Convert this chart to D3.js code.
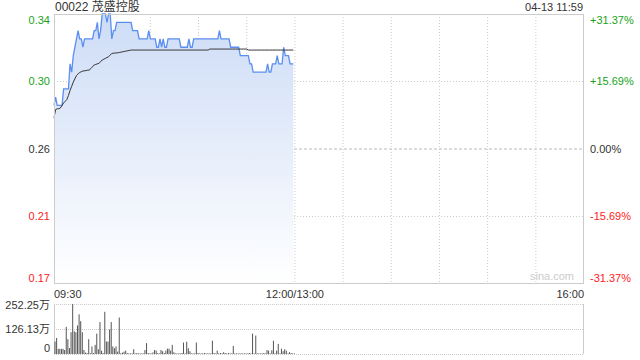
<!DOCTYPE html>
<html><head><meta charset="utf-8">
<script src="https://cdn.jsdelivr.net/npm/d3@7"></script>
<style>body{margin:0;background:#fff}svg{display:block}text{font-family:"Liberation Sans",Arial,"Noto Sans CJK SC",sans-serif}</style>
</head><body><svg id="c" width="640" height="360"></svg>
<script>
const title = "00022 茂盛控股";
const stamp = "04-13 11:59";
const prevClose = 0.2588;
const pctRange = 0.3137;
const leftLabels = ["0.34","0.30","0.26","0.21","0.17"];
const rightLabels = ["+31.37%","+15.69%","0.00%","-15.69%","-31.37%"];
const timeLabels = ["09:30","12:00/13:00","16:00"];
const timeLabelMinutes = [0,150,330];
const volLabels = ["252.25万","126.13万","0"];
const volMax = 252.25;
// price per minute from 09:30 (index = minutes since open)
const price = [
.285,.29,.285,.285,.285,.285,.295,.295,.295,.295,
.31,.305,.315,.32,.325,.33,.325,.325,.32,.325,
.325,.325,.325,.325,.325,.33,.33,.335,.325,.33,
.34,.34,.34,.335,.34,.34,.325,.33,.33,.335,
.335,.335,.335,.335,.335,.335,.335,.335,.335,.33,
.33,.33,.33,.325,.325,.325,.325,.325,.325,.33,
.325,.325,.325,.325,.32,.32,.325,.32,.325,.32,
.32,.325,.325,.325,.325,.325,.325,.325,.325,.32,
.32,.32,.32,.32,.325,.32,.32,.325,.325,.325,
.325,.325,.325,.325,.325,.325,.325,.325,.325,.325,
.325,.325,.325,.33,.325,.325,.325,.325,.325,.325,
.32,.32,.32,.32,.32,.32,.315,.315,.315,.315,
.315,.315,.31,.31,.305,.305,.305,.305,.305,.305,
.305,.305,.305,.31,.305,.305,.31,.31,.31,.315,
.31,.31,.31,.32,.315,.315,.315,.31,.31,.31];
const avg = [
.2775,.2825,.283,.283,.2835,.285,.2865,.2875,.2885,.291,
.294,.2965,.299,.301,.303,.304,.3048,.3053,.3057,.3058,
.306,.3062,.3063,.3072,.3083,.3093,.3097,.31,.3103,.3113,
.3123,.3128,.3133,.3138,.3143,.3153,.3163,.3164,.3165,.3166,
.3167,.3169,.3171,.3173,.3175,.3177,.3179,.3181,.3183,.3183,
.3183,.3183,.3183,.3183,.3183,.3183,.3183,.3183,.3183,.3183,
.3183,.3183,.3183,.3183,.3183,.3183,.3183,.3183,.3183,.3183,
.3183,.3183,.3183,.3183,.3183,.3183,.3183,.3183,.3183,.3183,
.3183,.3183,.3183,.3183,.3183,.3183,.3183,.3183,.3183,.3183,
.3183,.3183,.3183,.3183,.3183,.3183,.3183,.3189,.3189,.3189,
.3189,.3189,.3189,.3189,.3189,.3189,.3189,.3189,.3189,.3189,
.3189,.3189,.3189,.3189,.3189,.3189,.3189,.3189,.3189,.3189,
.3189,.3183,.3183,.3183,.3183,.3183,.3183,.3183,.3183,.3183,
.3183,.3183,.3183,.3183,.3183,.3183,.3183,.3183,.3183,.3183,
.3183,.3183,.3183,.3183,.3183,.3183,.3183,.3183,.3183,.3183];
// volume per minute, in 万
const volume = [
63,81,26,26,26,26,20,137,75,30,
110,252,115,110,144,200,166,110,20,7,
5,75,4,38,5,46,103,24,161,17,
5,213,63,63,124,161,38,29,38,12,
184,4,7,12,17,5,3,3,3,24,
3,5,3,3,3,3,20,55,5,3,
3,8,20,17,5,3,20,14,5,17,
27,27,17,46,9,3,3,3,3,5,
58,3,62,29,14,3,3,3,58,5,
3,3,3,5,3,3,3,3,67,5,
3,17,3,5,3,9,5,3,5,3,
3,41,3,3,3,3,3,3,3,3,
3,5,3,103,3,93,3,3,3,3,
5,3,20,17,3,19,67,3,17,51,
3,27,14,24,17,3,9,5,3,3];

const svg = d3.select("#c");
const L = 54, R = 584, T = 14, B = 284;
const VT = 304, VB = 354;
const x = d3.scaleLinear().domain([0,330]).range([L,R]);
const y = d3.scaleLinear().domain([prevClose*(1-pctRange), prevClose*(1+pctRange)]).range([B,T]);
const yv = d3.scaleLinear().domain([0, volMax]).range([VB, VT]);

const defs = svg.append("defs");
const g = defs.append("linearGradient").attr("id","gr").attr("x1",0).attr("y1",0).attr("x2",0).attr("y2",1);
g.append("stop").attr("offset","0%").attr("stop-color","#cddcf6");
g.append("stop").attr("offset","100%").attr("stop-color","#ffffff");

// gridlines main
const gridY = [1,2,3].map(i => T + (B-T)*i/4);
gridY.forEach((gy,i) => svg.append("line").attr("x1",L).attr("x2",R).attr("y1",gy).attr("y2",gy)
  .attr("stroke", i===1 ? "#bbb" : "#ccc").attr("stroke-dasharray", i===1 ? "3,2" : "1,2").attr("stroke-width",1));
d3.range(30,330,30).forEach(m => svg.append("line").attr("x1",x(m)).attr("x2",x(m)).attr("y1",T).attr("y2",B)
  .attr("stroke","#ccc").attr("stroke-dasharray","1,2"));

// area + lines
const idx = d3.range(price.length);
svg.append("path").datum(idx).attr("fill","url(#gr)")
  .attr("d", d3.area().x(i=>x(i)).y0(B).y1(i=>y(price[i])));
svg.append("path").datum(idx).attr("fill","none").attr("stroke","#5a8ef0").attr("stroke-width",1.3)
  .attr("d", d3.line().x(i=>x(i)).y(i=>y(price[i])));
svg.append("path").datum(idx).attr("fill","none").attr("stroke","#333").attr("stroke-width",1)
  .attr("d", d3.line().x(i=>x(i)).y(i=>y(avg[i])));

// border main
svg.append("rect").attr("x",L+0.5).attr("y",T+0.5).attr("width",R-L-1).attr("height",B-T-1)
  .attr("fill","none").attr("stroke","#ccc");

// left/right labels
const lblColor = i => i<2 ? "#1aa31a" : (i===2 ? "#333" : "#f22");
const lblY = [T+6, gridY[0], gridY[1], gridY[2], B-6];
leftLabels.forEach((t,i)=> svg.append("text").attr("x",L-4).attr("y",lblY[i]).attr("dy","0.35em")
  .attr("text-anchor","end").attr("font-size",11).attr("fill",lblColor(i)).text(t));
rightLabels.forEach((t,i)=> svg.append("text").attr("x",R+6).attr("y",lblY[i]).attr("dy","0.35em")
  .attr("text-anchor","start").attr("font-size",11).attr("fill",lblColor(i)).text(t));

// time labels
const anchors = ["start","middle","end"];
timeLabels.forEach((t,i)=> svg.append("text").attr("x",x(timeLabelMinutes[i])).attr("y",298)
  .attr("text-anchor",anchors[i]).attr("font-size",11).attr("fill","#333").text(t));

// title + stamp
svg.append("text").attr("x",L+1).attr("y",11).attr("font-size",12).attr("fill","#333").text(title);
svg.append("text").attr("x",R-1).attr("y",11).attr("text-anchor","end").attr("font-size",11).attr("fill","#333").text(stamp);
svg.append("text").attr("x",R-10).attr("y",280).attr("text-anchor","end").attr("font-size",11).attr("fill","#ccc").text("sina.com");

// volume panel
[VT, (VT+VB)/2, VB].forEach(gy => svg.append("line").attr("x1",L).attr("x2",R).attr("y1",gy+0.5).attr("y2",gy+0.5)
  .attr("stroke","#ccc").attr("stroke-dasharray","1,1"));
svg.append("line").attr("x1",L+0.5).attr("x2",L+0.5).attr("y1",VT).attr("y2",VB).attr("stroke","#ccc");
svg.append("line").attr("x1",R-0.5).attr("x2",R-0.5).attr("y1",VT).attr("y2",VB).attr("stroke","#ccc");
svg.append("g").selectAll("rect").data(idx).join("rect")
  .attr("x", i => x(i)+0.5).attr("width",1)
  .attr("y", i => yv(volume[i])).attr("height", i => VB - yv(volume[i]))
  .attr("fill","#555");
const vly = [VT+1, (VT+VB)/2, VB-6];
volLabels.forEach((t,i)=> svg.append("text").attr("x",L-4).attr("y",vly[i]).attr("dy","0.35em")
  .attr("text-anchor","end").attr("font-size",11).attr("fill","#333").text(t));
</script></body></html>
